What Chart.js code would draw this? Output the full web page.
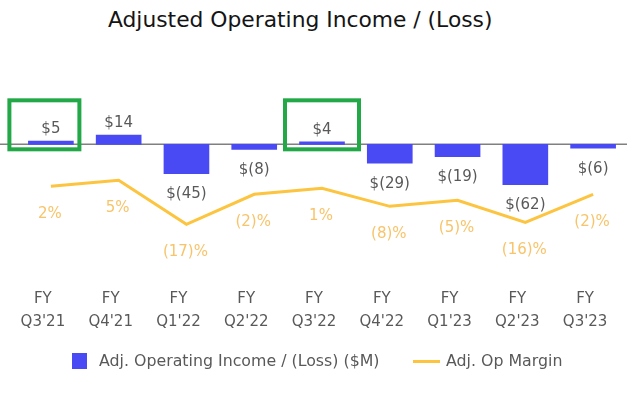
<!DOCTYPE html>
<html>
<head>
<meta charset="utf-8">
<script src="https://cdn.jsdelivr.net/npm/chart.js@4.4.1/dist/chart.umd.min.js"></script>
<style>
  html, body { margin: 0; padding: 0; background: #ffffff; }
  #wrap { position: relative; width: 640px; height: 402px; overflow: hidden; }
  #title { position: absolute; left: 108px; top: 6px; font-family: "DejaVu Sans", sans-serif; font-size: 21.8px; line-height: 28px; color: #141414; white-space: nowrap; }
  canvas { position: absolute; left: 0; top: 0; }
  .lg { position: absolute; top: 352px; height: 18px; font-family: "DejaVu Sans", sans-serif; font-size: 15.8px; line-height: 18px; color: #595959; white-space: nowrap; }
  .sw { position: absolute; }
</style>
</head>
<body>
<div id="wrap">
  <div id="title">Adjusted Operating Income / (Loss)</div>
  <canvas id="c" width="640" height="402"></canvas>
  <div id="legend"></div>
</div>
<script>
// ---- data ----
const categories = [["FY", "Q3'21"], ["FY", "Q4'21"], ["FY", "Q1'22"], ["FY", "Q2'22"], ["FY", "Q3'22"], ["FY", "Q4'22"], ["FY", "Q1'23"], ["FY", "Q2'23"], ["FY", "Q3'23"]];
const incomeValues = [5, 14, -45, -8, 4, -29, -19, -62, -6];
const marginValues = [2, 5, -17, -2, 1, -8, -5, -16, -2];
const highlightedCategories = [0, 4];
const seriesNames = ["Adj. Operating Income / (Loss) ($M)", "Adj. Op Margin"];

const FONT = '"DejaVu Sans", sans-serif';
const BAR_COLOR = '#4A4AF5';
const LINE_COLOR = '#FCC43F';
const PCT_COLOR = '#F8C46A';
const TEXT_COLOR = '#595959';
const GREEN = '#22A846';

const fmtMoney = v => v >= 0 ? '$' + v : '$(' + (-v) + ')';
const fmtPct = v => v >= 0 ? v + '%' : '(' + (-v) + ')%';

const zeroLine = {
  id: 'zeroLine',
  beforeDatasetsDraw(chart) {
    const { ctx, chartArea } = chart;
    const y0 = chart.scales.y.getPixelForValue(0);
    ctx.save();
    ctx.strokeStyle = '#808080';
    ctx.lineWidth = 1.5;
    ctx.beginPath();
    ctx.moveTo(0, y0);
    ctx.lineTo(chartArea.right, y0);
    ctx.stroke();
    ctx.restore();
  }
};

const valueLabels = {
  id: 'valueLabels',
  afterDatasetsDraw(chart) {
    const { ctx } = chart;
    ctx.save();
    ctx.font = '15px ' + FONT;
    ctx.textAlign = 'center';
    ctx.textBaseline = 'middle';
    const bars = chart.getDatasetMeta(0).data;
    bars.forEach((bar, i) => {
      const v = incomeValues[i];
      ctx.fillStyle = TEXT_COLOR;
      const y = v >= 0 ? bar.y - 12 : bar.y + 20.5;
      ctx.fillText(fmtMoney(v), bar.x, y);
    });
    const pts = chart.getDatasetMeta(1).data;
    pts.forEach((p, i) => {
      ctx.fillStyle = PCT_COLOR;
      ctx.fillText(fmtPct(marginValues[i]), p.x - 1, p.y + 28);
    });
    ctx.restore();
  }
};

const highlightBoxes = {
  id: 'highlightBoxes',
  afterDatasetsDraw(chart, args, opts) {
    const { ctx } = chart;
    const y0 = chart.scales.y.getPixelForValue(0);
    ctx.save();
    ctx.strokeStyle = GREEN;
    ctx.lineWidth = 4;
    highlightedCategories.forEach((idx, k) => {
      const cx = chart.scales.x.getPixelForValue(idx) + opts.dx[k];
      const w = opts.w[k];
      ctx.strokeRect(cx - w / 2, y0 - 44, w, 49);
    });
    ctx.restore();
  }
};

const chart = new Chart(document.getElementById('c'), {
  data: {
    labels: categories,
    datasets: [
      {
        type: 'bar',
        label: seriesNames[0],
        data: incomeValues,
        backgroundColor: BAR_COLOR,
        barThickness: 45,
        yAxisID: 'y',
        order: 2
      },
      {
        type: 'line',
        label: seriesNames[1],
        data: marginValues,
        borderColor: LINE_COLOR,
        backgroundColor: LINE_COLOR,
        borderWidth: 3,
        pointRadius: 0,
        tension: 0,
        fill: false,
        yAxisID: 'y1',
        order: 1
      }
    ]
  },
  options: {
    responsive: false,
    animation: false,
    layout: { padding: { top: 40, left: 17, right: 13, bottom: 65.5 } },
    scales: {
      x: {
        offset: true,
        grid: { display: false, drawTicks: false },
        border: { display: false },
        ticks: {
          color: TEXT_COLOR,
          font: { family: FONT, size: 15, lineHeight: '23px' },
          padding: 3,
          labelOffset: -8,
          maxRotation: 0,
          autoSkip: false
        }
      },
      y: { display: false, min: -215, max: 160 },
      y1: { display: false, min: -47, max: 75 }
    },
    plugins: {
      legend: { display: false },
      tooltip: { enabled: false },
      highlightBoxes: { dx: [-6.5, 0], w: [70, 74] }
    }
  },
  plugins: [zeroLine, valueLabels, highlightBoxes]
});

// HTML legend built from the chart's datasets
(function buildLegend() {
  const lg = document.getElementById('legend');
  const ds = chart.data.datasets;
  const items = [
    { sw: { left: 72, top: 353, width: 15, height: 16, background: ds[0].backgroundColor }, textLeft: 99, text: ds[0].label },
    { sw: { left: 413, top: 359.5, width: 27, height: 3, background: ds[1].borderColor }, textLeft: 446, text: ds[1].label }
  ];
  items.forEach(it => {
    const s = document.createElement('div');
    s.className = 'sw';
    s.style.left = it.sw.left + 'px';
    s.style.top = it.sw.top + 'px';
    s.style.width = it.sw.width + 'px';
    s.style.height = it.sw.height + 'px';
    s.style.background = it.sw.background;
    lg.appendChild(s);
    const t = document.createElement('div');
    t.className = 'lg';
    t.style.left = it.textLeft + 'px';
    t.textContent = it.text;
    lg.appendChild(t);
  });
})();
</script>
</body>
</html>
